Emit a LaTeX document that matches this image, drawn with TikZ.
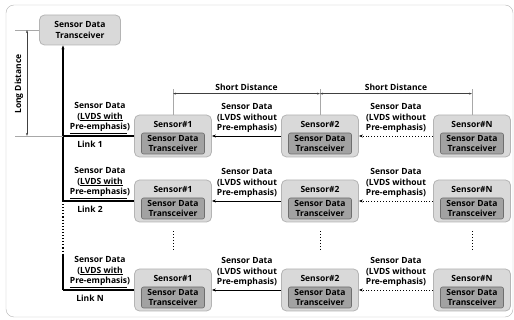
\documentclass[tikz,border=0pt]{standalone}
\usepackage{fontspec}
\setmainfont{Open Sans}
\usetikzlibrary{arrows.meta}
\definecolor{boxfill}{HTML}{D9D9D9}
\definecolor{boxline}{HTML}{B4B4B4}
\definecolor{trxfill}{HTML}{A2A2A2}
\definecolor{trxline}{HTML}{6E6E6E}
\definecolor{dimline}{HTML}{A8A8A8}
\tikzset{
  sensorbox/.style={draw=boxline,fill=boxfill,rounded corners=5pt,line width=0.8pt,
    minimum width=77pt,minimum height=42pt},
  trxbox/.style={draw=trxline,fill=trxfill,rounded corners=2pt,line width=0.6pt,
    minimum width=63pt,minimum height=21pt},
  txt/.style={font=\bfseries\fontsize{8.5}{10.5}\selectfont,align=center,inner sep=0pt},
  link/.style={line width=1.1pt},
  data/.style={line width=0.9pt,-{Stealth[length=4pt,width=3pt]}},
  dim/.style={dimline,line width=0.5pt},
  dimarrow/.style={black!75,line width=0.5pt,{Stealth[length=3pt,width=2pt]}-{Stealth[length=3pt,width=2pt]}}
}
\begin{document}
\begin{tikzpicture}[x=1pt,y=-1pt]
  \useasboundingbox (0,0) rectangle (514,320);
  \draw[boxline,rounded corners=8pt] (6,5) rectangle (513,317);
  \node[sensorbox,minimum width=81pt,minimum height=30pt,txt] (top) at (80,30) {Sensor Data\\Transceiver};
  \foreach \r/\y/\k in {1/136/1,2/201/2,3/290/N} {
    \foreach \c/\x/\m in {1/173/1,2/320/2,3/472/N} {
      \node[sensorbox] (s\r\c) at (\x,\y) {};
      \node[txt] (n\r\c) at (\x,\y-12) {Sensor\#\m};
      \node[trxbox,txt] (t\r\c) at (\x,\y+7.5) {Sensor Data\\Transceiver};
    }
    \draw[data] (s\r2) -- (s\r1);
    \draw[data,dotted] (s\r3) -- (s\r2);
    \coordinate (b\r) at (63,\y);
    \draw[link] (s\r1) -- (b\r);
    \node[txt] (p\r) at (100,\y-18) {Sensor Data\\(\underline{LVDS with}\\\underline{Pre-emphasis})};
    \node[txt] (q\r) at (247,\y-18) {Sensor Data\\(LVDS without\\Pre-emphasis)};
    \node[txt] (w\r) at (396,\y-18) {Sensor Data\\(LVDS without\\Pre-emphasis)};
    \node[txt] (l\r) at (90,\y+8) {Link \k};
  }
  % bus to the far transceiver
  \draw[link,-{Stealth[length=4pt,width=3pt]}] (b2) -- (b1) -- (top.south -| b1);
  \coordinate (g) at (63,255);
  \draw[link,dotted] (b2) -- (g);
  \draw[link] (g) -- (b3);
  \foreach \c in {1,2,3} \draw[line width=0.9pt,dotted] ([yshift=-9pt]s2\c.south) -- ([yshift=18pt]s3\c.north);
  % distances
  \coordinate (lt) at (15,30);
  \coordinate (lb) at (15,136);
  \draw[dim] (lt) -- (top.west);
  \draw[dim] (lb) -- (b1);
  \draw[dimarrow] ([xshift=12pt]lt) -- ([xshift=12pt]lb);
  \node[txt,rotate=90] (ld) at (19,84) {Long Distance};
  \foreach \c in {1,2,3} \draw[dim] (s1\c.north) -- ++(0,-26);
  \draw[dimarrow] ([yshift=21pt]s11.north) -- ([yshift=21pt]s12.north) node[txt,black,midway,above=3pt] (sd1) {Short Distance};
  \draw[dimarrow] ([yshift=21pt]s12.north) -- ([yshift=21pt]s13.north) node[txt,black,midway,above=3pt] (sd2) {Short Distance};
\end{tikzpicture}
\end{document}
